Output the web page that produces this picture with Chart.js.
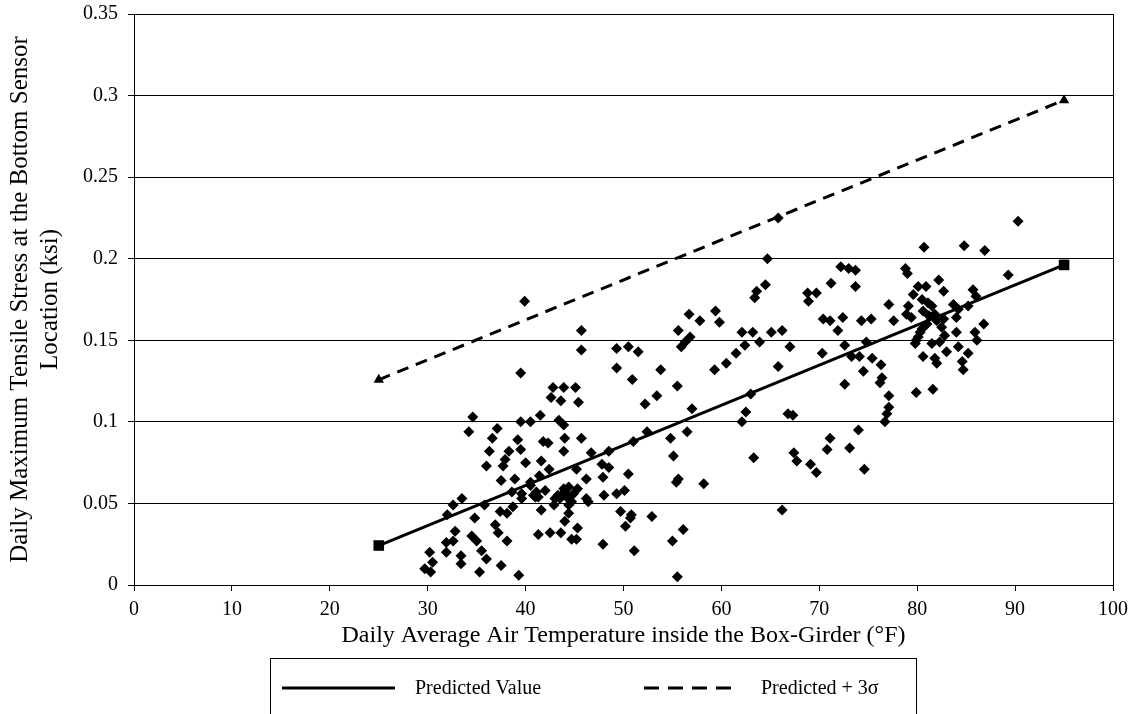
<!DOCTYPE html>
<html>
<head>
<meta charset="utf-8">
<script src="https://cdn.jsdelivr.net/npm/chart.js@4.4.1/dist/chart.umd.min.js"></script>
<style>
  html, body { margin: 0; padding: 0; background: #fff; }
  #wrap { width: 1139px; height: 714px; }
</style>
</head>
<body>
<div id="wrap"><canvas id="chart" width="1139" height="714"></canvas></div>
<script>
  // =========================
  // DATA
  // =========================
  // measured points: air temperature (°F) and max tensile stress (ksi)
  const tempX = [
    39.5, 34.6, 34.2, 37.1, 36.6, 36.3, 36.0, 39.2, 39.5, 40.5, 38.3, 39.5, 37.9, 37.7, 40.0, 37.5,
    38.9, 38.6, 40.5, 39.6, 33.5, 32.6, 32.0, 35.8, 34.8, 37.4, 38.1, 38.7, 36.9, 37.2, 38.1, 32.8,
    31.9, 32.6, 31.9, 34.5, 35.0, 35.5, 36.0, 37.5, 39.3, 35.3, 33.4, 33.4, 30.2, 30.5, 29.7, 30.3,
    40.8, 39.9, 40.5, 39.6, 41.0,
    50.9, 42.8, 43.9, 45.1, 42.6, 43.6, 45.4, 41.5, 43.4, 43.9, 41.8, 42.3, 44.0, 45.7, 43.9, 46.7,
    48.5, 41.6, 42.4, 45.2, 47.8, 48.5, 47.9, 46.2, 50.5, 41.4, 42.0, 43.9, 44.4, 45.3, 43.5, 46.2,
    46.4, 44.4, 42.9, 41.6, 44.4, 48.0, 49.3, 50.1, 51.0, 52.4, 53.4, 52.2, 55.5, 57.0, 54.8, 56.5,
    55.1, 55.6, 55.4, 58.2, 49.7, 50.8, 50.7, 52.9, 50.2, 44.0, 45.3, 43.6, 44.7, 45.2, 41.3, 42.5,
    47.9, 51.1, 56.1, 55.0, 55.5, 62.1, 62.5, 63.0, 63.3, 66.2, 44.2, 44.7, 43.0, 41.1, 41.3,
    44.0, 44.9, 43.3,
    65.8, 64.7, 64.5, 63.6, 63.4, 45.7, 45.7, 49.3, 50.5, 51.5, 49.3, 53.8, 55.6, 56.7, 57.8, 59.4,
    59.8, 56.8, 56.3, 55.9, 62.1, 63.2, 62.4, 61.5, 60.5, 59.3, 63.9, 65.1, 66.2, 65.8,
    90.3, 80.7, 84.8, 86.9, 89.3, 72.2, 73.0, 73.7, 71.2, 73.7, 68.8, 69.7, 68.9, 78.8, 79.0, 80.1,
    80.9, 82.2, 82.7, 79.6, 80.5, 81.1, 81.5, 77.1, 79.1, 78.9, 79.4, 80.6, 81.8, 82.0, 82.7, 83.7,
    84.2, 85.2, 85.7, 86.0, 84.0, 84.0, 82.8, 82.3, 81.5, 83.0, 84.2, 85.2, 84.6, 85.9, 86.8, 86.1,
    80.5, 80.1, 79.8, 80.6, 81.8, 82.0, 77.6, 75.3, 74.3, 72.4, 70.4, 71.1, 71.9, 72.6, 74.8, 73.3,
    74.1, 75.4, 76.3, 74.5, 70.3, 67.0, 84.7, 80.3, 79.9, 81.2, 82.5, 81.0,
    76.4, 76.2, 72.6, 77.1, 77.1, 76.9, 76.7, 79.9, 81.6, 66.8, 67.3, 74.0, 71.1, 70.8, 73.1, 67.4,
    67.7, 69.1, 69.7, 74.6
  ];
  const stressY = [
    0.130, 0.103, 0.094, 0.096, 0.090, 0.082, 0.073, 0.089, 0.100, 0.100, 0.082, 0.083, 0.077, 0.073, 0.075, 0.064,
    0.065, 0.057, 0.061, 0.053, 0.053, 0.049, 0.043, 0.049, 0.041, 0.045, 0.044, 0.048, 0.037, 0.032, 0.027, 0.033,
    0.026, 0.027, 0.020, 0.030, 0.027, 0.021, 0.016, 0.012, 0.006, 0.008, 0.018, 0.013, 0.020, 0.014, 0.010, 0.008,
    0.055, 0.174, 0.063, 0.056, 0.054,
    0.126, 0.121, 0.121, 0.121, 0.115, 0.113, 0.112, 0.104, 0.101, 0.098, 0.088, 0.087, 0.090, 0.090, 0.082, 0.081,
    0.082, 0.076, 0.071, 0.071, 0.074, 0.072, 0.066, 0.065, 0.068, 0.067, 0.058, 0.059, 0.060, 0.059, 0.053, 0.053,
    0.051, 0.049, 0.049, 0.046, 0.044, 0.055, 0.056, 0.058, 0.088, 0.094, 0.116, 0.111, 0.122, 0.108, 0.090, 0.094,
    0.079, 0.065, 0.063, 0.062, 0.045, 0.043, 0.041, 0.042, 0.036, 0.039, 0.035, 0.032, 0.028, 0.028, 0.031, 0.032,
    0.025, 0.021, 0.034, 0.027, 0.005, 0.100, 0.106, 0.117, 0.078, 0.046, 0.054, 0.051, 0.053, 0.057, 0.054,
    0.057, 0.056, 0.055,
    0.225, 0.200, 0.184, 0.180, 0.176, 0.156, 0.144, 0.145, 0.146, 0.143, 0.133, 0.132, 0.156, 0.166, 0.162, 0.168,
    0.161, 0.152, 0.149, 0.146, 0.155, 0.155, 0.147, 0.142, 0.136, 0.132, 0.149, 0.155, 0.156, 0.134,
    0.223, 0.207, 0.208, 0.205, 0.190, 0.195, 0.194, 0.193, 0.185, 0.183, 0.179, 0.179, 0.174, 0.194, 0.191, 0.183,
    0.183, 0.187, 0.180, 0.178, 0.175, 0.173, 0.171, 0.172, 0.171, 0.166, 0.164, 0.168, 0.166, 0.162, 0.163, 0.172,
    0.169, 0.171, 0.181, 0.177, 0.164, 0.155, 0.153, 0.149, 0.148, 0.143, 0.146, 0.142, 0.137, 0.155, 0.160, 0.150,
    0.157, 0.152, 0.148, 0.140, 0.139, 0.136, 0.162, 0.163, 0.162, 0.164, 0.163, 0.162, 0.156, 0.147, 0.149, 0.140,
    0.140, 0.139, 0.135, 0.131, 0.142, 0.146, 0.132, 0.155, 0.150, 0.165, 0.158, 0.160,
    0.127, 0.124, 0.123, 0.116, 0.109, 0.105, 0.100, 0.118, 0.120, 0.105, 0.104, 0.095, 0.090, 0.083, 0.084, 0.081,
    0.076, 0.074, 0.069, 0.071
  ];

  // regression line and upper bound (end points)
  const predX = [25, 95];
  const predY = [0.0242, 0.1962];
  const upperY = [0.1258, 0.2972];

  // axis ticks
  const xTickLabels = ['0', '10', '20', '30', '40', '50', '60', '70', '80', '90', '100'];
  const yTickLabels = ['0', '0.05', '0.1', '0.15', '0.2', '0.25', '0.3', '0.35'];

  const FONT = '"Liberation Serif", "Times New Roman", serif';

  // =========================
  // PLUGIN: bingkai plot + legend kotak di bawah
  // =========================
  const frameAndLegend = {
    id: 'frameAndLegend',
    afterDraw(chart) {
      const ctx = chart.ctx;
      const a = chart.chartArea;
      ctx.save();
      ctx.strokeStyle = '#000';
      ctx.lineWidth = 1;
      ctx.strokeRect(Math.round(a.left) + 0.5, Math.round(a.top) + 0.5,
        Math.round(a.right - a.left), Math.round(a.bottom - a.top));

      // legend box (runs off the bottom of the image)
      ctx.strokeRect(270.5, 658.5, 646, 80);

      ctx.lineWidth = 3;
      ctx.beginPath();
      ctx.moveTo(282, 688);
      ctx.lineTo(395, 688);
      ctx.stroke();

      ctx.setLineDash([15, 9]);
      ctx.beginPath();
      ctx.moveTo(644, 688);
      ctx.lineTo(731, 688);
      ctx.stroke();
      ctx.setLineDash([]);

      ctx.fillStyle = '#000';
      ctx.font = '20px ' + FONT;
      ctx.textBaseline = 'middle';
      ctx.textAlign = 'left';
      ctx.fillText('Predicted Value', 415, 689);
      ctx.fillText('Predicted + 3\u03c3', 761, 689);
      ctx.restore();
    }
  };

  const points = tempX.map((x, i) => ({ x: x, y: stressY[i] }));
  const predLine = predX.map((x, i) => ({ x: x, y: predY[i] }));
  const upperLine = predX.map((x, i) => ({ x: x, y: upperY[i] }));

  new Chart(document.getElementById('chart'), {
    type: 'scatter',
    data: {
      datasets: [
        {
          label: 'Predicted Value',
          data: predLine,
          showLine: true,
          borderColor: '#000',
          backgroundColor: '#000',
          borderWidth: 3,
          pointStyle: 'rect',
          pointRadius: 7.5,
          pointBorderWidth: 0
        },
        {
          label: 'Predicted + 3\u03c3',
          data: upperLine,
          showLine: true,
          borderColor: '#000',
          backgroundColor: '#000',
          borderWidth: 3,
          borderDash: [12, 8],
          pointStyle: 'triangle',
          pointRadius: 6,
          pointBorderWidth: 0
        },
        {
          label: 'Measured',
          data: points,
          backgroundColor: '#000',
          borderColor: '#000',
          pointStyle: 'rectRot',
          pointRadius: 5.5,
          pointBorderWidth: 0
        }
      ]
    },
    options: {
      responsive: false,
      animation: false,
      layout: { padding: { top: 14, right: 26, left: 0, bottom: 0 } },
      plugins: {
        legend: { display: false },
        tooltip: { enabled: false }
      },
      scales: {
        x: {
          type: 'linear',
          min: 0,
          max: 100,
          afterFit(scale) {
            scale.height = 129;
            scale.paddingLeft = 0;
            scale.paddingRight = 0;
          },
          afterBuildTicks(scale) {
            scale.ticks = xTickLabels.map(v => ({ value: Number(v) }));
          },
          grid: {
            drawOnChartArea: false,
            drawTicks: true,
            tickLength: 6,
            color: '#000'
          },
          border: { display: true, color: '#000', width: 1 },
          ticks: {
            color: '#000',
            padding: 7,
            maxRotation: 0,
            font: { size: 20, family: FONT },
            callback: (v, i) => xTickLabels[i]
          },
          title: {
            display: true,
            text: 'Daily Average Air Temperature inside the Box-Girder (\u00b0F)',
            color: '#000',
            font: { size: 24, family: FONT, lineHeight: 1.2 },
            padding: { top: 0, bottom: 64 }
          }
        },
        y: {
          type: 'linear',
          min: 0,
          max: 0.35,
          afterFit(scale) {
            scale.width = 134;
            scale.paddingTop = 0;
            scale.paddingBottom = 0;
          },
          afterBuildTicks(scale) {
            scale.ticks = yTickLabels.map(v => ({ value: Number(v) }));
          },
          grid: {
            color: '#000',
            lineWidth: 1,
            drawTicks: true,
            tickLength: 6
          },
          border: { display: true, color: '#000', width: 1 },
          ticks: {
            color: '#000',
            padding: 10,
            font: { size: 20, family: FONT },
            callback: (v, i) => yTickLabels[i]
          },
          title: {
            display: true,
            text: ['Daily Maximum Tensile Stress at the Bottom Sensor', 'Location (ksi)'],
            color: '#000',
            font: { size: 25, family: FONT, lineHeight: 1.2 },
            padding: { top: 5, bottom: 0 }
          }
        }
      }
    },
    plugins: [frameAndLegend]
  });
</script>
</body>
</html>
